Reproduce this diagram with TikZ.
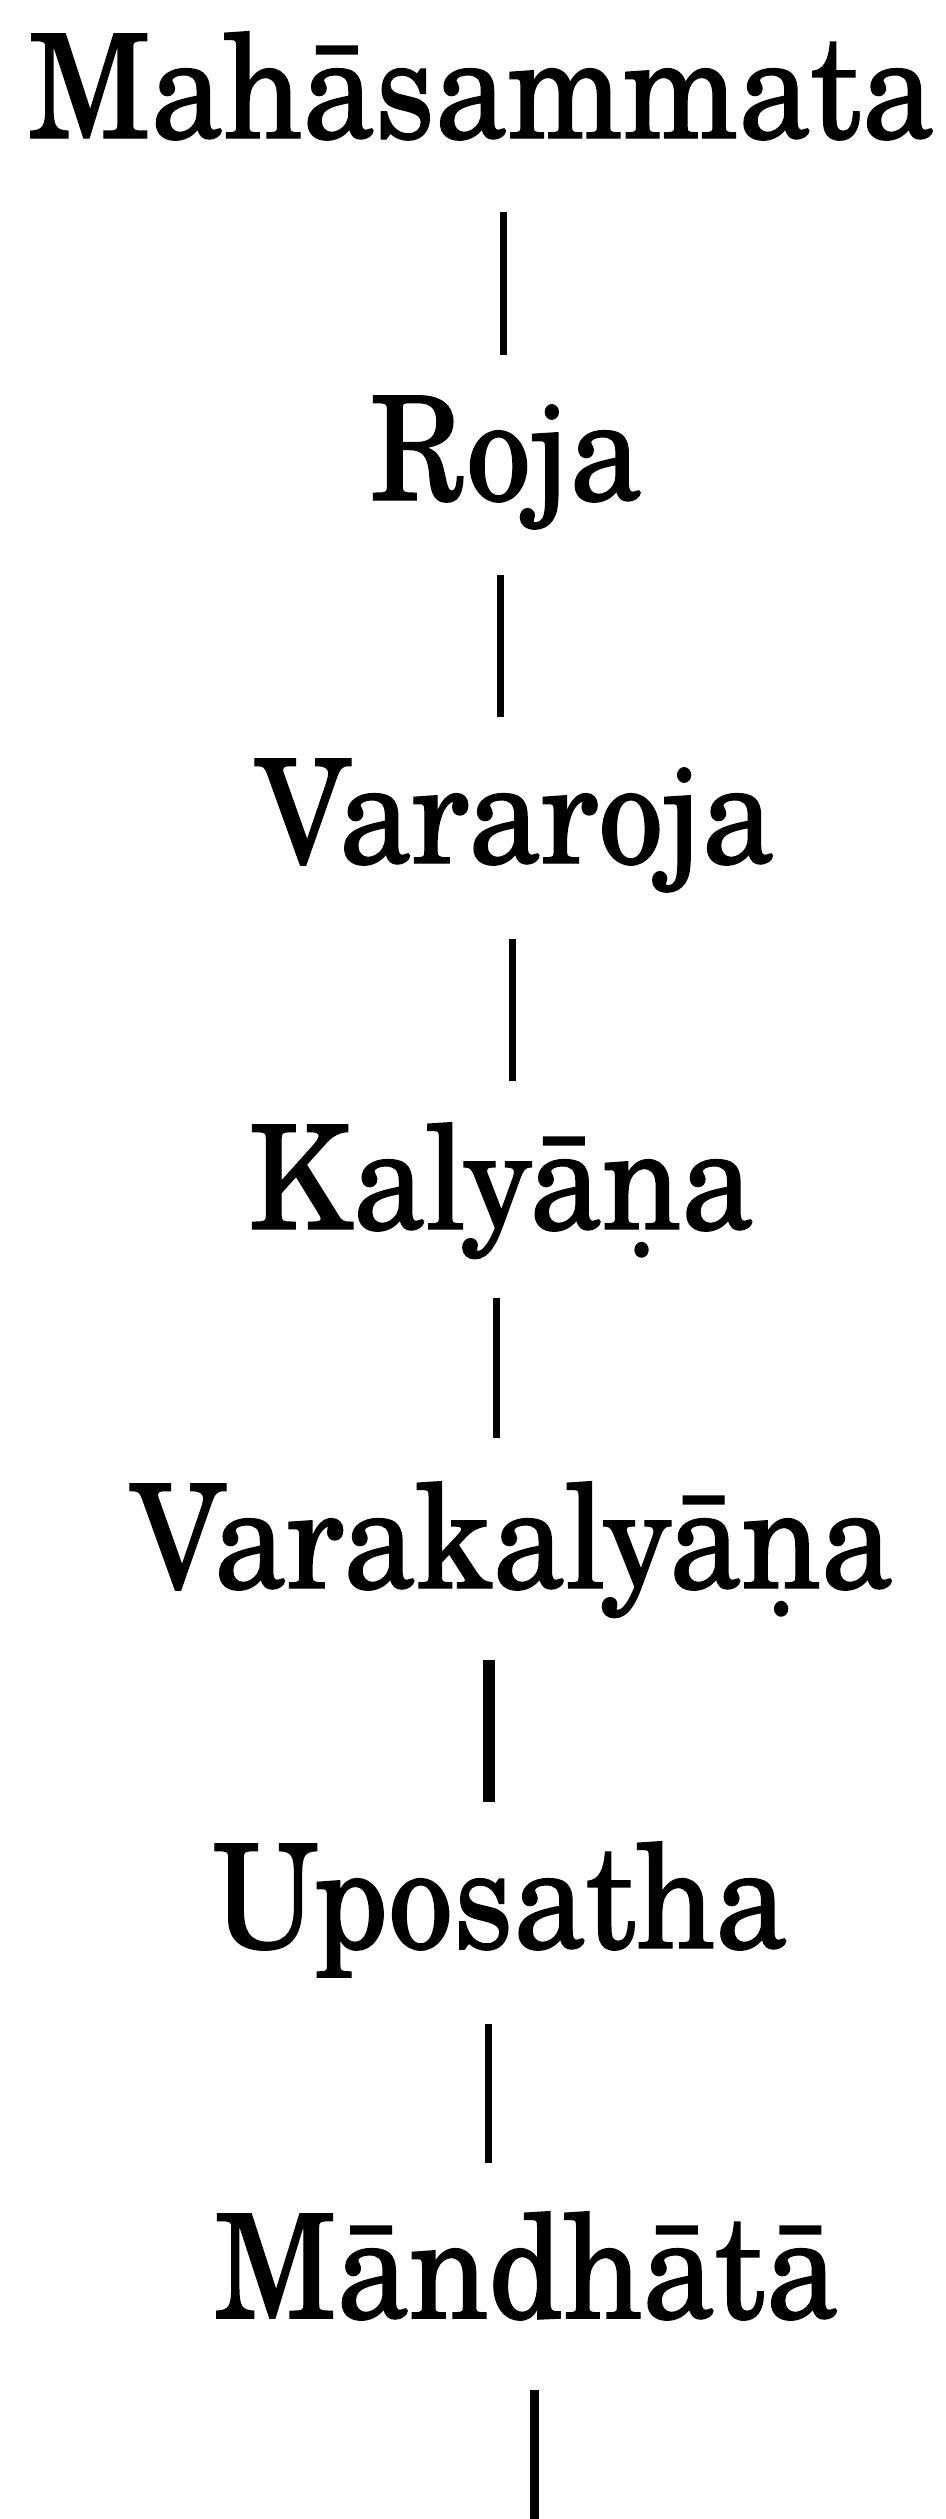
\documentclass[tikz,border=0pt]{standalone}
\usepackage{fontspec}
\usepackage{graphicx}
\setmainfont{TeX Gyre Schola}[FakeBold=1.0]
\usetikzlibrary{calc}
\newcommand\ndotb{\iffontchar\font"1E47 \char"1E47\relax\else\setbox0\hbox{n}\rlap{\hbox to\wd0{\hss\raisebox{-0.16em}{.}\hss}}\box0\fi}
\newcommand\ytall[1]{\scalebox{1}[1.11]{#1}}
\tikzset{
  lbl/.style={anchor=base, inner sep=0pt, font=\fontsize{130}{150}\selectfont},
  link/.style={line width=7pt, black}
}
\begin{document}
\begin{tikzpicture}[x=1pt,y=-1pt]
\useasboundingbox (0,0) rectangle (945,2519);
\node[lbl] (maha) at (481,138) {\ytall{Mahāsammata}};
\node[lbl] (roja) at (506,500) {\ytall{Roja}};
\node[lbl] (vara) at (515,863) {\ytall{Vararoja}};
\node[lbl] (kaly) at (501,1229) {\ytall{Kalyā\ndotb a}};
\node[lbl] (vkal) at (512,1588) {\ytall{Varakalyā\ndotb a}};
\node[lbl] (upos) at (500,1948) {\ytall{Uposatha}};
\node[lbl] (mand) at (526,2318) {\ytall{Māndhātā}};
\coordinate (bottom) at (534,2519);
\draw[link] ($(maha.base)+(22,74)$) -- ($(roja.base)+(-3,-145)$);
\draw[link] ($(roja.base)+(-6,75)$) -- ($(vara.base)+(-15,-146)$);
\draw[link] ($(vara.base)+(-3,76)$) -- ($(kaly.base)+(11,-148)$);
\draw[link] ($(kaly.base)+(-5,69)$) -- ($(vkal.base)+(-16,-150)$);
\draw[link, line width=12pt] ($(vkal.base)+(-23,72)$) -- ($(upos.base)+(-11,-146)$);
\draw[link] ($(upos.base)+(-12,76)$) -- ($(mand.base)+(-38,-155)$);
\draw[link, line width=9pt] ($(mand.base)+(8,72)$) -- (bottom);
\end{tikzpicture}
\end{document}
